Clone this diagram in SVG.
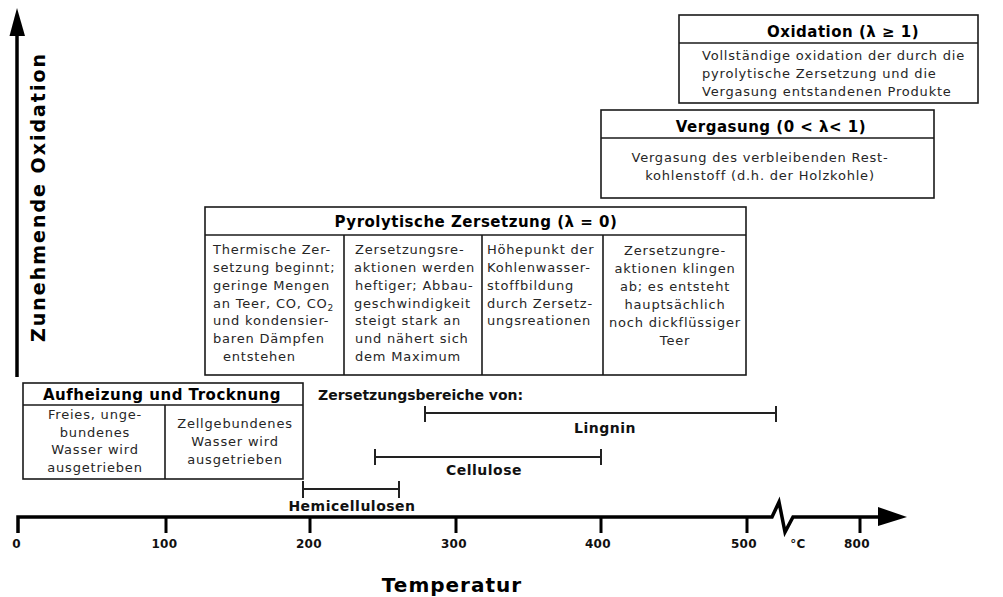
<svg xmlns="http://www.w3.org/2000/svg" width="1003" height="597" viewBox="0 0 1003 597">
<style>
.box{fill:#fff;stroke:#1a1a1a;stroke-width:1.6}
.ln{fill:none;stroke:#1a1a1a;stroke-width:1.6}
.t{font-family:"DejaVu Sans","Liberation Sans",sans-serif;font-size:13px;letter-spacing:0.8px;fill:#262626}
.h{font-family:"DejaVu Sans","Liberation Sans",sans-serif;font-weight:bold;font-size:15px;letter-spacing:0.5px;fill:#000}
.r{font-family:"DejaVu Sans","Liberation Sans",sans-serif;font-weight:bold;font-size:14px;letter-spacing:0.5px;fill:#111}
.k{font-family:"DejaVu Sans","Liberation Sans",sans-serif;font-weight:bold;font-size:12px;letter-spacing:0.4px;fill:#111;text-anchor:middle}
.c{text-anchor:middle}
.bar{fill:none;stroke:#222;stroke-width:2}
.ax{fill:none;stroke:#000;stroke-width:3.5}
.tk{stroke:#000;stroke-width:3}
</style>

<g id="connectors">
  <!-- vertical axis -->
  <line class="ax" x1="17" y1="377" x2="17" y2="32" stroke-width="4"/>
  <polygon points="17,8 9.5,36 25,36" fill="#000"/>
  <!-- horizontal axis -->
  <polyline class="ax" points="18,533 18,517 772,517 779,502 785,532 793,517 880,517"/>
  <polygon points="907,517 878,507 878,526" fill="#000"/>
  <line class="tk" x1="166" y1="517" x2="166" y2="533"/>
  <line class="tk" x1="310" y1="517" x2="310" y2="533"/>
  <line class="tk" x1="456" y1="517" x2="456" y2="533"/>
  <line class="tk" x1="601" y1="517" x2="601" y2="533"/>
  <line class="tk" x1="747" y1="517" x2="747" y2="533"/>
  <line class="tk" x1="860" y1="517" x2="860" y2="533"/>
</g>

<g id="axis-labels">
  <text class="h" transform="translate(45,197) rotate(-90)" text-anchor="middle" font-size="19" style="font-size:19px;letter-spacing:2px">Zunehmende Oxidation</text>
  <text class="h c" x="452" y="592" style="font-size:20px;letter-spacing:1px">Temperatur</text>
  <text class="k" x="16.5" y="548">0</text>
  <text class="k" x="164.5" y="548">100</text>
  <text class="k" x="309" y="548">200</text>
  <text class="k" x="454" y="548">300</text>
  <text class="k" x="598" y="548">400</text>
  <text class="k" x="744" y="548">500</text>
  <text class="k" x="798" y="548">°C</text>
  <text class="k" x="857" y="548">800</text>
</g>

<g id="oxidation">
  <rect class="box" x="679" y="15" width="299" height="88"/>
  <line class="ln" x1="679" y1="43" x2="978" y2="43"/>
  <text class="h" x="767" y="37">Oxidation (λ ≥ 1)</text>
  <text class="t" x="702" y="60">Vollständige oxidation der durch die</text>
  <text class="t" x="702" y="78">pyrolytische Zersetzung und die</text>
  <text class="t" x="702" y="96">Vergasung entstandenen Produkte</text>
</g>

<g id="vergasung">
  <rect class="box" x="601" y="110" width="333" height="88"/>
  <line class="ln" x1="601" y1="138" x2="934" y2="138"/>
  <text class="h c" x="771" y="132">Vergasung (0 &lt; λ&lt; 1)</text>
  <text class="t c" x="760" y="162">Vergasung des verbleibenden Rest-</text>
  <text class="t c" x="760" y="180">kohlenstoff (d.h. der Holzkohle)</text>
</g>

<g id="pyrolyse">
  <rect class="box" x="205" y="207" width="541" height="168"/>
  <line class="ln" x1="205" y1="235" x2="746" y2="235"/>
  <line class="ln" x1="344" y1="235" x2="344" y2="375"/>
  <line class="ln" x1="482" y1="235" x2="482" y2="375"/>
  <line class="ln" x1="603" y1="235" x2="603" y2="375"/>
  <text class="h c" x="476" y="227">Pyrolytische Zersetzung (λ = 0)</text>
  <g class="t">
    <text class="t" x="213" y="254">Thermische Zer-</text>
    <text class="t" x="213" y="272">setzung beginnt;</text>
    <text class="t" x="213" y="290">geringe Mengen</text>
    <text class="t" x="213" y="308">an Teer, CO, CO<tspan dy="3" style="font-size:9px">2</tspan></text>
    <text class="t" x="213" y="325">und kondensier-</text>
    <text class="t" x="213" y="343">baren Dämpfen</text>
    <text class="t" x="223" y="361">entstehen</text>

    <text class="t" x="355" y="254">Zersetzungsre-</text>
    <text class="t" x="354" y="272">aktionen werden</text>
    <text class="t" x="355" y="290">heftiger; Abbau-</text>
    <text class="t" x="354" y="308">geschwindigkeit</text>
    <text class="t" x="355" y="325">steigt stark an</text>
    <text class="t" x="355" y="343">und nähert sich</text>
    <text class="t" x="355" y="361">dem Maximum</text>

    <text class="t" x="487" y="254">Höhepunkt der</text>
    <text class="t" x="487" y="272">Kohlenwasser-</text>
    <text class="t" x="487" y="290">stoffbildung</text>
    <text class="t" x="487" y="308">durch Zersetz-</text>
    <text class="t" x="487" y="325">ungsreationen</text>

    <text class="t c" x="675" y="255">Zersetzungre-</text>
    <text class="t c" x="675" y="273">aktionen klingen</text>
    <text class="t c" x="675" y="291">ab; es entsteht</text>
    <text class="t c" x="675" y="309">hauptsächlich</text>
    <text class="t c" x="675" y="327">noch dickflüssiger</text>
    <text class="t c" x="675" y="345">Teer</text>
  </g>
</g>

<g id="aufheizung">
  <rect class="box" x="23" y="383" width="280" height="96"/>
  <line class="ln" x1="23" y1="405" x2="303" y2="405"/>
  <line class="ln" x1="165" y1="405" x2="165" y2="479"/>
  <text class="h c" x="162" y="400">Aufheizung und Trocknung</text>
  <text class="t c" x="95" y="419">Freies, unge-</text>
  <text class="t c" x="95" y="437">bundenes</text>
  <text class="t c" x="95" y="454">Wasser wird</text>
  <text class="t c" x="95" y="472">ausgetrieben</text>
  <text class="t c" x="235" y="428">Zellgebundenes</text>
  <text class="t c" x="235" y="446">Wasser wird</text>
  <text class="t c" x="235" y="464">ausgetrieben</text>
</g>

<g id="zersetzungsbereiche">
  <text class="r" x="318" y="400" style="letter-spacing:0px">Zersetzungsbereiche von:</text>
  <g id="lignin">
    <path class="bar" d="M425,406V422M425,413H776M776,406V422"/>
    <text class="r c" x="605" y="433">Lingnin</text>
  </g>
  <g id="cellulose">
    <path class="bar" d="M375,449V465M375,457H601M601,449V465"/>
    <text class="r c" x="484" y="475">Cellulose</text>
  </g>
  <g id="hemicellulosen">
    <path class="bar" d="M303,481V498M303,489H399M399,481V498"/>
    <text class="r c" x="352" y="511">Hemicellulosen</text>
  </g>
</g>
</svg>
